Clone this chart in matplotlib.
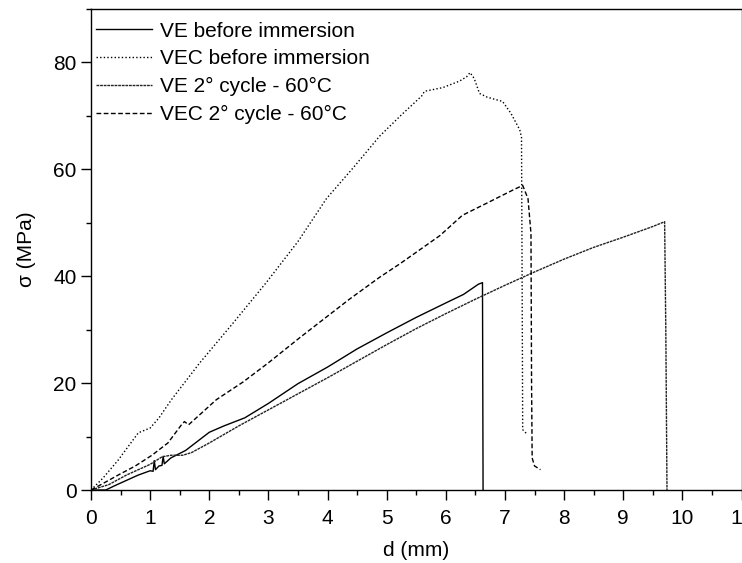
import matplotlib
matplotlib.use("Agg")
import matplotlib.pyplot as plt
from matplotlib.ticker import MultipleLocator

plt.rcParams['font.family'] = ['Liberation Sans', 'DejaVu Sans']

# VE before immersion (solid)
ve_d = [0, 0.25, 0.4, 0.6, 0.8, 1.0, 1.05, 1.07, 1.09, 1.15, 1.2, 1.22, 1.24, 1.35, 1.6,
        2.0, 2.25, 2.6, 3.0, 3.5, 4.0, 4.5, 5.0, 5.5, 6.0, 6.3, 6.55, 6.62, 6.63]
ve_s = [0, 0, 0.8, 1.8, 2.8, 3.6, 3.5, 5.5, 3.8, 4.5, 4.6, 6.3, 4.9, 6.0, 7.4,
        10.8, 12.0, 13.5, 16.2, 19.9, 23.0, 26.4, 29.4, 32.3, 35.0, 36.6, 38.5, 38.8, 0]

# VEC before immersion (dotted)
vec_d = [0, 0.2, 0.46, 0.8, 1.0, 1.15, 1.36, 1.84, 2.4, 2.97, 3.5, 3.98, 4.45, 4.88,
         5.25, 5.59, 5.64, 5.95, 6.23, 6.35, 6.41, 6.48, 6.57, 6.7, 6.96, 7.1, 7.25,
         7.28, 7.29, 7.30, 7.36]
vec_s = [0, 2.2, 5.6, 10.7, 11.6, 13.5, 16.9, 23.8, 31.2, 38.9, 46.5, 54.5, 60.5, 66.2,
         70.2, 73.7, 74.6, 75.3, 76.5, 77.3, 78.1, 77.0, 74.2, 73.5, 72.7, 70.5, 67.4,
         66.0, 40.0, 11.3, 10.6]

# VE 2nd cycle - 60 C (fine dashes)
ve2_d = [0, 0.3, 0.6, 1.0, 1.2, 1.35, 1.55, 1.7, 2.0, 2.5, 3.0, 3.5, 4.0, 4.5, 5.0,
         5.5, 6.0, 6.5, 7.0, 7.5, 8.0, 8.5, 9.0, 9.5, 9.70, 9.72, 9.74]
ve2_s = [0, 1.0, 2.8, 4.8, 6.2, 6.5, 6.5, 7.0, 8.8, 12.0, 15.0, 18.0, 21.0, 24.1, 27.2,
         30.2, 33.0, 35.7, 38.3, 40.8, 43.2, 45.4, 47.3, 49.3, 50.2, 30.0, 0]

# VEC 2nd cycle - 60 C (dashed)
vec2_d = [0, 0.2, 0.46, 0.75, 1.03, 1.30, 1.53, 1.58, 1.65, 2.12, 2.57, 3.0, 3.53, 4.37,
          4.88, 5.22, 5.9, 6.28, 6.68, 7.13, 7.30, 7.39, 7.44, 7.45, 7.46, 7.5, 7.6]
vec2_s = [0, 1.2, 2.8, 4.5, 6.5, 8.8, 12.2, 12.8, 12.2, 16.9, 20.2, 23.8, 28.5, 35.7,
          39.8, 42.3, 47.6, 51.4, 53.6, 56.1, 57.0, 54.5, 48.0, 20.0, 6.0, 4.5, 3.8]

labels = ["VE before immersion", "VEC before immersion",
          "VE 2\u00b0 cycle - 60\u00b0C", "VEC 2\u00b0 cycle - 60\u00b0C"]

fig = plt.figure(figsize=(7.42, 5.63), dpi=100)
ax = fig.add_axes([91 / 742, 1 - 490 / 563, 650.5 / 742, 481 / 563])

ax.plot(ve_d, ve_s, color="black", lw=1.0, ls="-", label=labels[0])
ax.plot(vec_d, vec_s, color="black", lw=1.0, ls=(0, (1.0, 1.6)), label=labels[1])
ax.plot(ve2_d, ve2_s, color="#222222", lw=1.0, ls=(0, (2.0, 0.6)), label=labels[2])
ax.plot(vec2_d, vec2_s, color="black", lw=1.0, ls=(0, (3.4, 1.8)), label=labels[3])

ax.set_xlim(0, 11)
ax.set_ylim(0, 90)
ax.xaxis.set_major_locator(MultipleLocator(1))
ax.xaxis.set_minor_locator(MultipleLocator(0.5))
ax.yaxis.set_major_locator(MultipleLocator(20))
ax.yaxis.set_minor_locator(MultipleLocator(10))
ax.tick_params(which="major", direction="out", length=7, width=1, labelsize=15)
ax.tick_params(which="minor", direction="out", length=3.8, width=1)
ax.tick_params(axis="x", which="major", pad=7)
ax.tick_params(axis="y", which="major", pad=3.5)
for sp in ax.spines.values():
    sp.set_linewidth(1.0)

ax.set_xlabel("d (mm)", fontsize=15, labelpad=9)
ax.set_ylabel("\u03c3 (MPa)", fontsize=15, labelpad=12)

ax.legend(loc="upper left", bbox_to_anchor=(0.008, 0.974), frameon=False,
          fontsize=15, handlelength=2.7, handletextpad=0.35,
          labelspacing=0.42, borderaxespad=0, borderpad=0)

fig.savefig("out.png", dpi=100)
